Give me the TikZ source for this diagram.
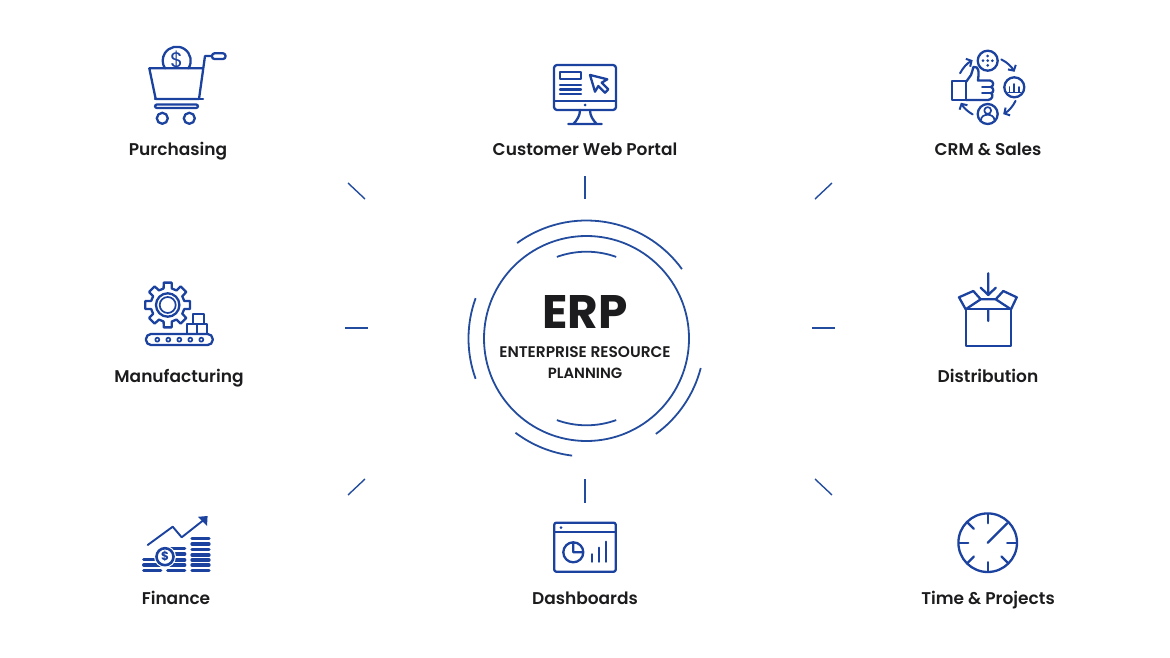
\documentclass[tikz,border=0pt]{standalone}
\usepackage{fontspec}
\setmainfont{Poppins}
\newfontfamily\captionfont{Poppins SemiBold}
\usetikzlibrary{arrows.meta}
\definecolor{erpblue}{HTML}{1B429F}
\definecolor{ringblue}{HTML}{234C9E}
\definecolor{inkblack}{HTML}{1C1C1E}
\tikzset{
  icon/.style={draw=erpblue,line width=2.3pt,line join=round,line cap=round},
  thinicon/.style={icon,line width=1.7pt},
  ring/.style={draw=ringblue,line width=1.8pt},
  tick/.style={draw=ringblue,line width=1.4pt},
  caption/.style={text=inkblack,font=\captionfont\fontsize{17}{18}\selectfont,anchor=base,inner sep=0pt}
}
\begin{document}
\begin{tikzpicture}[x=1pt,y=-1pt]
  \useasboundingbox (0,0) rectangle (1170,658);
  % centre
  \draw[ring] (586.5,338.5) circle (102.5pt);
  \foreach \a/\b/\r in {36/126/118, 160/200/118, 233/263/118, -54/-14.5/118, 70/110/86.8, 250/290/86.8}
    \draw[ring] (586.5,338.5) ++(\a:\r pt) arc[start angle=\a,end angle=\b,radius=\r pt];
  \node[text=inkblack,font=\bfseries\fontsize{47}{47}\selectfont,inner sep=0pt] (erp) at (585,312.5) {ERP};
  \node[caption,anchor=center,font=\captionfont\fontsize{15.4}{15}\selectfont] (erpa) at (585,352.5) {ENTERPRISE RESOURCE};
  \node[caption,anchor=center,font=\captionfont\fontsize{14.8}{15}\selectfont] (erpb) at (585,373) {PLANNING};
  % ticks
  \foreach \xa/\ya/\xb/\yb in {348/183/365/199, 585/176/585/199, 832/183/815/199, 345/328/368/328,
      812/328/835/328, 348/495/365/479, 585/479/585/503, 815/479/832/495}
    \draw[tick] (\xa,\ya) -- (\xb,\yb);
  % captions
  \foreach \x/\y/\n/\t in {178/156/purchasing/Purchasing, 585/156/portal/Customer Web Portal,
      988/156/crm/CRM \& Sales, 179/382/manufacturing/Manufacturing, 988/382/distribution/Distribution,
      176/604/finance/Finance, 585/604/dashboards/Dashboards, 988/604/projects/Time \& Projects}
    \node[caption] (\n) at (\x,\y) {\t};
  % purchasing
  \draw[icon] (176.7,60.7) ++(-33:14pt) arc[start angle=-33,end angle=213,radius=14pt];
  \node[text=erpblue,font=\fontsize{21}{21}\selectfont,inner sep=0pt] (cartcoin) at (176.7,60.5) {\$};
  \draw[icon] (149.3,68.3) -- (203.3,68.3) (149.3,68.3) -- (155.7,99) -- (199,99) -- (205,56) -- (212,56);
  \draw[icon,rounded corners=2.5pt] (212,53.3) rectangle (225.5,59);
  \draw[icon,rounded corners=2pt] (155,104.5) rectangle (198,108);
  \draw[icon] (155,99) -- (203,99);
  \draw[icon] (162.3,118.3) circle (5.5pt) (189.3,118.3) circle (5.5pt);
  % portal
  \draw[icon,rounded corners=3pt] (554,65) rectangle (616,110);
  \draw[icon] (554,100.7) -- (616,100.7) (560,71.7) rectangle (581,79.3);
  \foreach \y in {85,89.5,94} \draw[icon] (560,\y) -- (581,\y);
  \fill[erpblue] (585,105) circle (1.5pt);
  \draw[icon] (580,110) .. controls (580,116) and (577,120) .. (573.3,124)
    (590,110) .. controls (590,116) and (593,120) .. (596.7,124) (568.3,124) -- (601.7,124);
  \draw[icon] (590,75) -- (595,91.7) -- (598.3,86) -- (605,92.7) -- (608.3,89.3) -- (601.7,82.7) -- (607.3,79.3) -- cycle;
  % crm
  \draw[icon] (987.7,60.7) circle (10pt) (1014.3,87.3) circle (10pt) (987.7,114) circle (10pt);
  \foreach \x/\y in {987.7/56, 987.7/60.7, 987.7/65.4, 983/60.7, 992.4/60.7}
    \fill[erpblue] (\x,\y) circle (1.5pt);
  \foreach \x/\y in {1009.5/87, 1014.3/84, 1019/87} \draw[thinicon] (\x,92) -- (\x,\y);
  \draw[thinicon] (1008,92.5) -- (1020.5,92.5);
  \draw[thinicon] (987.7,110.5) circle (3.4pt) (981,120) .. controls (981,113) and (994.4,113) .. (994.4,120);
  \draw[icon] (951.7,80.7) rectangle (966,100);
  \draw[icon] (966,82) -- (971,75) .. controls (973,70) and (973,66) .. (974,67) .. controls (979,66) and (979,72) .. (978,80.5)
    -- (990,80.5) .. controls (994,81) and (994,86) .. (991,87) .. controls (994,88) and (994,93) .. (991,93)
    .. controls (994,95) and (992,100) .. (988,100) -- (966,100);
  \foreach \y in {87,93} \draw[thinicon] (982,\y) -- (991,\y);
  \foreach \a/\b in {153/119, 64/30, -26/-60, -119/-150}
    \draw[icon,line width=2pt,-{Straight Barb[length=4pt,width=9pt]}] (987.7,87.3) ++(\a:31pt) arc[start angle=\a,end angle=\b,radius=31pt];
  % manufacturing
  \draw[icon,shift={(167.7,305)}] (-14:17pt) \foreach \a in {0,45,...,315} { -- (\a-14:17pt) -- (\a-10:22.7pt) -- (\a+10:22.7pt) -- (\a+14:17pt) } -- cycle;
  \draw[icon] (167.7,305) circle (11.7pt);
  \draw[thinicon] (167.7,305) circle (8pt);
  \draw[icon,rounded corners=5pt] (146,334) rectangle (212.7,345);
  \foreach \x in {157.3,168.3,179.3,190.3,201.3} \draw[thinicon] (\x,339.7) circle (2pt);
  \draw[icon] (186.7,324.3) rectangle (196.7,334) (196.7,324.3) rectangle (207.3,334) (193.3,314.3) rectangle (204,324.3);
  % distribution
  \draw[icon] (965.7,309.3) rectangle (1011,346);
  \draw[icon] (988.3,273.3) -- (988.3,295) (980.7,287.7) -- (988.3,295) -- (995.7,287.7) (988.3,309.3) -- (988.3,321);
  \draw[icon] (965.7,309.3) -- (980.7,299.3) -- (995.7,299.3) -- (1011,309.3);
  \draw[icon] (965.7,309.3) -- (959,297.3) -- (973.3,291) -- (980.7,299.3);
  \draw[icon] (1011,309.3) -- (1016.7,297.3) -- (1003.3,291) -- (995.7,299.3);
  % finance
  \foreach \x/\ys in {191/{538.3,544,549.3,555,560,565,570.7}, 166.7/{548.3,554,560,565,570.7}, 142.7/{559.3,565,570.7}}
    \foreach \y in \ys \draw[erpblue,line width=3.3pt,line cap=round] (\x+1,\y) -- (\x+18,\y);
  \fill[white] (165,556.7) circle (11pt);
  \draw[icon,line width=2.6pt] (165,556.7) circle (8.5pt);
  \node[text=erpblue,font=\bfseries\fontsize{12}{12}\selectfont,inner sep=0pt] (coin) at (165,556.7) {\$};
  \draw[erpblue,line width=1.9pt,line cap=round,line join=round] (147.7,545) -- (172.7,526.7) -- (181.7,537.3) -- (203,520.5);
  \fill[erpblue] (207.6,516) -- (207,526) -- (198,516.8) -- cycle;
  % dashboards
  \draw[icon,rounded corners=2pt] (554.3,522.7) rectangle (615.7,571.7);
  \draw[icon] (554.3,531.7) -- (615.7,531.7);
  \fill[erpblue] (561,527.7) circle (1.5pt);
  \draw[icon] (573.3,552.3) circle (10pt) (573.3,542.3) -- (573.3,552.3) -- (583.3,552.3);
  \foreach \x/\y in {592.3/554.3, 599/547.7, 606/541.7} \draw[icon] (\x,\y) -- (\x,561.7);
  % projects
  \draw[icon] (987.7,542.7) circle (29.3pt);
  \foreach \a in {0,90,180,270,135,225,315}
    \draw[icon,shift={(987.7,542.7)},rotate=\a] (19.5,0) -- (29,0);
  \draw[icon] (987.7,542.7) -- (1007.3,523.3);
\end{tikzpicture}
\end{document}
